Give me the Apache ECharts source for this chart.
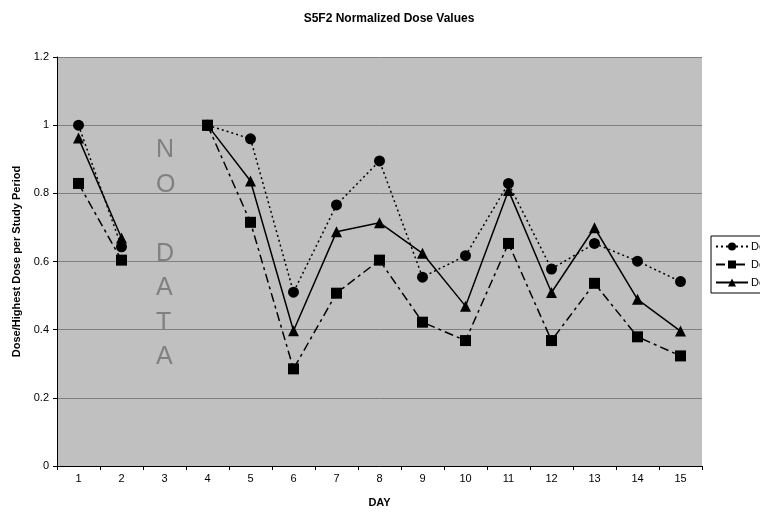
<!DOCTYPE html>
<html><head><meta charset="utf-8">
<script src="https://cdn.jsdelivr.net/npm/echarts@6/dist/echarts.min.js"></script>
<style>html,body{margin:0;padding:0;background:#fff}#c{width:760px;height:515px}</style>
</head><body><div id="c"></div>
<script>
var days = ['1','2','3','4','5','6','7','8','9','10','11','12','13','14','15'];
var seriesNames = ['Dose 1','Dose 2','Dose 3'];
var circleVals = [1.0, 0.643, null, 1.0, 0.96, 0.51, 0.766, 0.895, 0.554, 0.617, 0.829, 0.578, 0.653, 0.601, 0.541];
var squareVals = [0.829, 0.604, null, 1.0, 0.715, 0.285, 0.507, 0.604, 0.422, 0.368, 0.653, 0.368, 0.536, 0.379, 0.323];
var triangleVals = [0.962, 0.669, null, 1.0, 0.836, 0.397, 0.687, 0.714, 0.624, 0.469, 0.808, 0.509, 0.699, 0.489, 0.396];
var yTicks = {min: 0, max: 1.2, interval: 0.2};

var font = 'Liberation Sans, Arial, sans-serif';
var chart = echarts.init(document.getElementById('c'), null, {renderer: 'canvas'});
function mk(name, data, symbol, size, dash) {
  return {
    name: name, type: 'line', data: data, symbol: symbol, symbolSize: size,
    connectNulls: false,
    itemStyle: {color: '#000'},
    lineStyle: {color: '#000', width: 1.5, type: dash},
    emphasis: {disabled: true}
  };
}
chart.setOption({
  animation: false,
  backgroundColor: '#fff',
  title: {text: 'S5F2 Normalized Dose Values', left: 384, top: 8, textAlign: 'center',
    textStyle: {fontFamily: font, fontSize: 12, fontWeight: 'bold', color: '#000'}},
  grid: {left: 57, right: 58, top: 57, bottom: 49, show: true, backgroundColor: '#c0c0c0', borderWidth: 0},
  legend: {
    orient: 'vertical', left: 711, top: 236, padding: [5, 10, 5, 4],
    backgroundColor: '#fff', borderColor: '#000', borderWidth: 1,
    itemWidth: 32, itemHeight: 10, itemGap: 7,
    textStyle: {fontFamily: font, fontSize: 11, color: '#000', padding: [0,0,0,-2]},
    data: seriesNames
  },
  xAxis: {
    type: 'category', data: days, boundaryGap: true,
    name: 'DAY', nameLocation: 'middle', nameGap: 31,
    nameTextStyle: {fontFamily: font, fontSize: 11, fontWeight: 'bold', color: '#000'},
    axisLine: {lineStyle: {color: '#000', width: 1}},
    axisTick: {show: true, length: 4, lineStyle: {color: '#000'}},
    axisLabel: {fontFamily: font, fontSize: 11, color: '#000', margin: 7}
  },
  yAxis: {
    type: 'value', min: yTicks.min, max: yTicks.max, interval: yTicks.interval,
    name: 'Dose/Highest Dose per Study Period', nameLocation: 'middle', nameGap: 34,
    nameTextStyle: {fontFamily: font, fontSize: 11, fontWeight: 'bold', color: '#000'},
    axisLine: {show: true, lineStyle: {color: '#000', width: 1}},
    axisTick: {show: true, length: 4, lineStyle: {color: '#000'}},
    axisLabel: {fontFamily: font, fontSize: 11, color: '#000', margin: 8,
      formatter: function (v) { return String(Math.round(v * 10) / 10); }},
    splitLine: {lineStyle: {color: '#808080', width: 1}}
  },
  graphic: [{
    type: 'text', left: 156, top: 133,
    style: {text: 'N\nO\n\nD\nA\nT\nA', fill: '#808080', font: '25px ' + font, lineHeight: 34.5, align: 'center'}
  }],
  series: [
    mk(seriesNames[0], circleVals, 'circle', 11, [2, 3]),
    mk(seriesNames[1], squareVals, 'rect', 11, [9, 4, 3, 4]),
    mk(seriesNames[2], triangleVals, 'triangle', 11, 'solid')
  ]
});
</script></body></html>
